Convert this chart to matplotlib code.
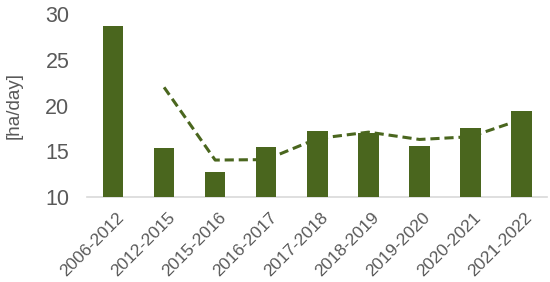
import matplotlib
matplotlib.use("Agg")
import matplotlib.pyplot as plt
import matplotlib.transforms as mtransforms
import numpy as np

# 数据
periods = ["2006-2012", "2012-2015", "2015-2016", "2016-2017", "2017-2018",
           "2018-2019", "2019-2020", "2020-2021", "2021-2022"]
rates = [28.7, 15.4, 12.7, 15.5, 17.2, 17.0, 15.6, 17.6, 19.4]
# 虚线（从第二个时期开始）
trend = [22.0, 14.05, 14.1, 16.4, 17.1, 16.3, 16.6, 18.5]

green = "#4a661e"
grey = "#595959"

plt.rcParams['font.family'] = ['Liberation Sans', 'DejaVu Sans']

fig = plt.figure(figsize=(5.5, 2.82), dpi=100)
ax = fig.add_axes([0.159, 0.301, 0.836, 0.649])

x = np.arange(len(periods))
ax.bar(x, rates, width=0.4, color=green, zorder=3)
ax.plot(x[1:], trend, color=green, linestyle=(0, (3, 1.6)), linewidth=2.2, zorder=2)

ax.set_xlim(-0.5, len(periods) - 0.5)
ax.set_ylim(10, 30)
ax.set_yticks([10, 15, 20, 25, 30])

for s in ["top", "right", "left"]:
    ax.spines[s].set_visible(False)
ax.spines["bottom"].set_color("#d9d9d9")
ax.spines["bottom"].set_linewidth(1.2)

ax.tick_params(axis="y", length=0, pad=13, labelsize=15.5, labelcolor=grey)
ax.tick_params(axis="x", length=0, pad=13, labelsize=12.5, labelcolor=grey)
ax.set_xticks(x)
ax.set_xticklabels(periods, rotation=45, ha="right", va="center",
                   rotation_mode="anchor")
# 标签稍微右移，像Excel那样
offset = mtransforms.ScaledTranslation(6 / 72, 0, fig.dpi_scale_trans)
for lab in ax.get_xticklabels():
    lab.set_transform(lab.get_transform() + offset)

ax.set_ylabel("[ha/day]", fontsize=13.5, color=grey, labelpad=16)

fig.savefig("out.png", dpi=100)
